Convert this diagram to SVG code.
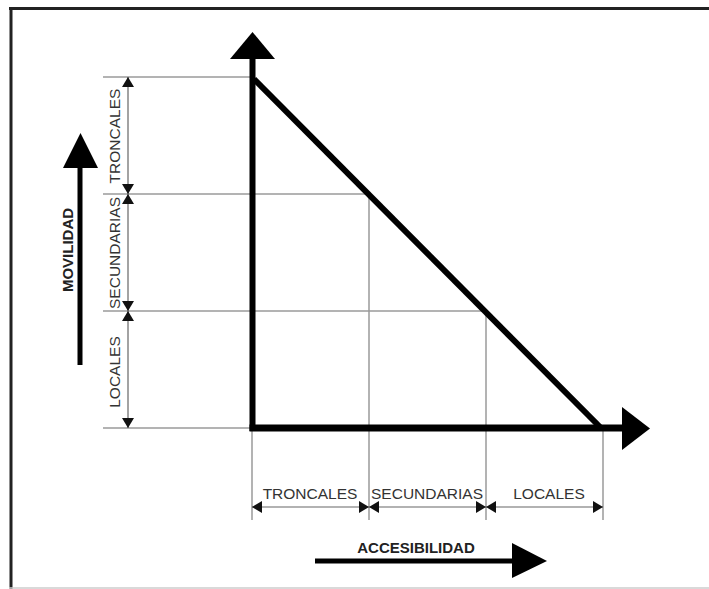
<svg xmlns="http://www.w3.org/2000/svg" width="709" height="589" viewBox="0 0 709 589">
<style>
.grid{stroke:#9a9a9a;stroke-width:1.5;fill:none}
.dim{stroke:#666;stroke-width:1.2;fill:none}
.ah{fill:#111}
.axis{stroke:#000;fill:none}
.head{fill:#000}
.lbl{font-family:"Liberation Sans",Arial,sans-serif;font-size:15.5px;fill:#333;text-anchor:middle}
.ttl{font-family:"Liberation Sans",Arial,sans-serif;font-size:15px;font-weight:bold;fill:#222;text-anchor:middle}
</style>
<rect width="709" height="589" fill="#fff"/>
<g id="frame">
<line x1="9" y1="8.5" x2="709" y2="8.5" stroke="#222" stroke-width="3"/>
<line x1="11" y1="7" x2="11" y2="589" stroke="#222" stroke-width="3"/>
<line x1="9" y1="588" x2="709" y2="588" stroke="#ccc" stroke-width="1.5"/>
</g>
<g id="grid">
<line class="grid" x1="103" y1="77" x2="252" y2="77"/>
<line class="grid" x1="103" y1="194" x2="370" y2="194"/>
<line class="grid" x1="103" y1="311" x2="487" y2="311"/>
<line class="grid" x1="103" y1="428" x2="252" y2="428"/>
<line class="grid" x1="252" y1="428" x2="252" y2="520"/>
<line class="grid" x1="369" y1="194" x2="369" y2="520"/>
<line class="grid" x1="486" y1="311" x2="486" y2="520"/>
<line class="grid" x1="603" y1="428" x2="603" y2="520"/>
</g>
<g id="connectors">
<line class="axis" x1="252.5" y1="431" x2="252.5" y2="56" stroke-width="6"/>
<polygon class="head" points="230,59 252.5,32 275,59"/>
<line class="axis" x1="249.5" y1="428" x2="625" y2="428" stroke-width="7"/>
<polygon class="head" points="622,407 650,428.5 622,450"/>
<line class="axis" x1="254" y1="79" x2="601" y2="428" stroke-width="6"/>
<line class="dim" x1="128" y1="77" x2="128" y2="428"/>
<line class="dim" x1="252" y1="507" x2="603" y2="507"/>
<polygon class="ah" points="128,77 122,87 134,87"/>
<polygon class="ah" points="128,194 122,184 134,184"/>
<polygon class="ah" points="128,194 122,204 134,204"/>
<polygon class="ah" points="128,311 122,301 134,301"/>
<polygon class="ah" points="128,311 122,321 134,321"/>
<polygon class="ah" points="128,428 122,418 134,418"/>
<polygon class="ah" points="252,507 262,501 262,513"/>
<polygon class="ah" points="369,507 359,501 359,513"/>
<polygon class="ah" points="369,507 379,501 379,513"/>
<polygon class="ah" points="486,507 476,501 476,513"/>
<polygon class="ah" points="486,507 496,501 496,513"/>
<polygon class="ah" points="603,507 593,501 593,513"/>
<line class="axis" x1="80" y1="365" x2="80" y2="165" stroke-width="5"/>
<polygon class="head" points="63,168 80.5,133 98,168"/>
<line class="axis" x1="315" y1="561" x2="515" y2="561" stroke-width="5"/>
<polygon class="head" points="512,543 547,561 512,578"/>
</g>
<g id="labels-v">
<text class="lbl" transform="translate(120,136) rotate(-90)">TRONCALES</text>
<text class="lbl" transform="translate(120,253) rotate(-90)">SECUNDARIAS</text>
<text class="lbl" transform="translate(120,372) rotate(-90)">LOCALES</text>
<text class="ttl" transform="translate(73,250) rotate(-90)">MOVILIDAD</text>
</g>
<g id="labels-h">
<text class="lbl" x="310" y="499">TRONCALES</text>
<text class="lbl" x="427" y="499">SECUNDARIAS</text>
<text class="lbl" x="549" y="499">LOCALES</text>
<text class="ttl" x="416" y="553" font-size="15.3">ACCESIBILIDAD</text>
</g>
</svg>
